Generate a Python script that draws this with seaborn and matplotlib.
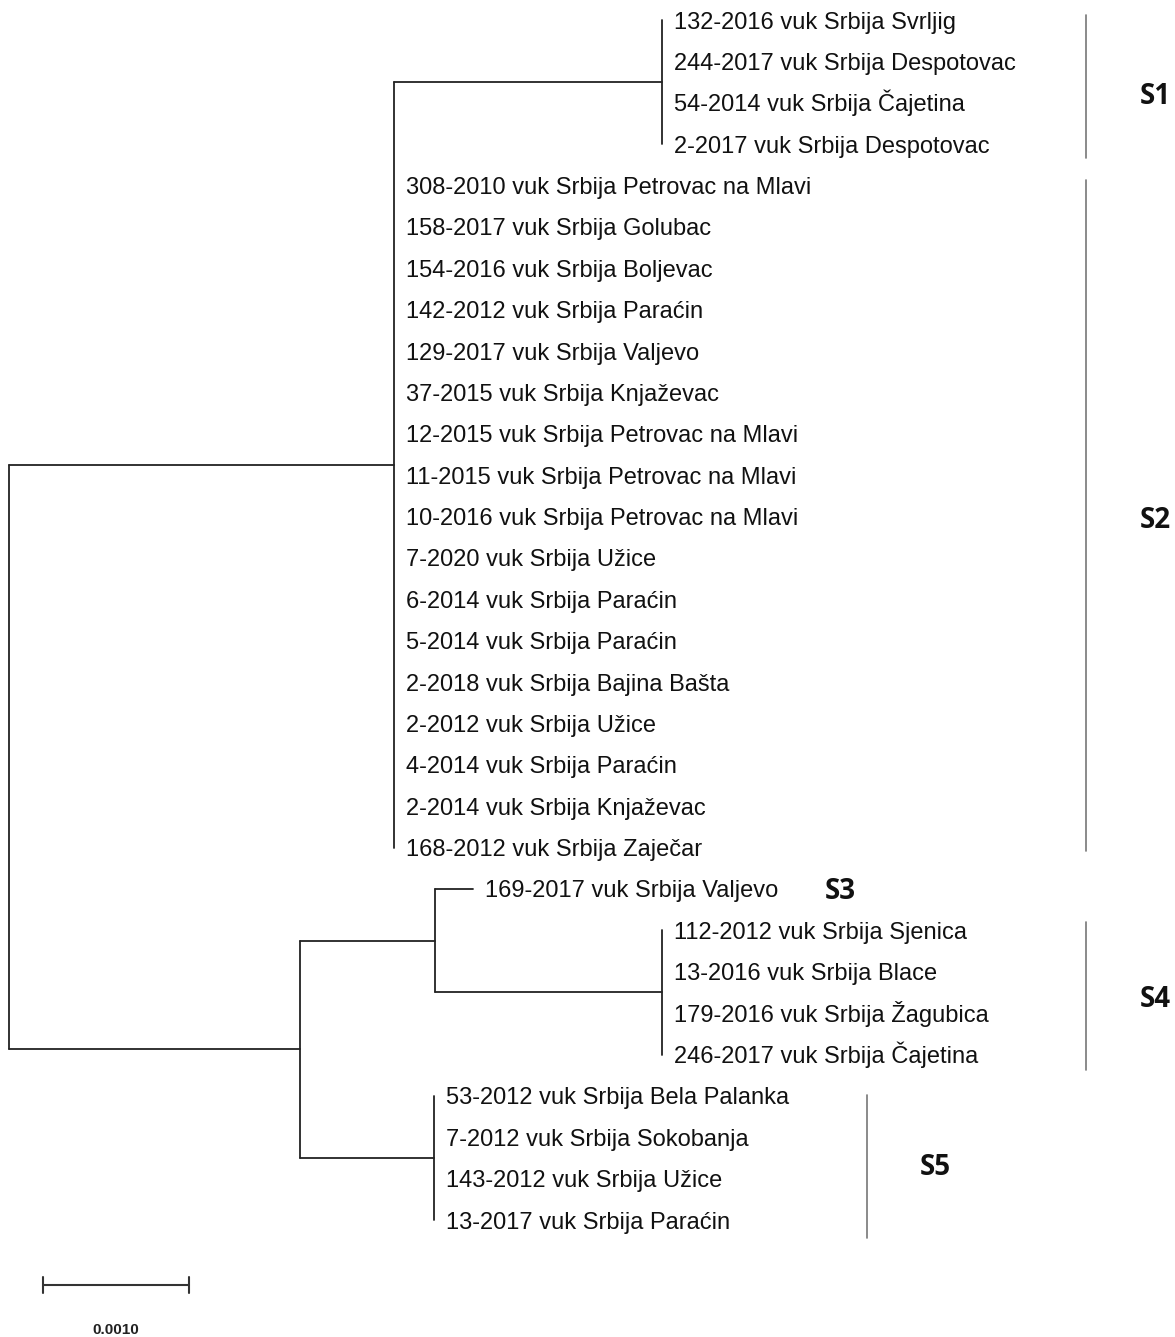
import matplotlib
matplotlib.use("Agg")
import matplotlib.pyplot as plt
import seaborn as sns
import pandas as pd

# ---------------- data ----------------
s1_leaves = ["132-2016 vuk Srbija Svrljig", "244-2017 vuk Srbija Despotovac",
             "54-2014 vuk Srbija Čajetina", "2-2017 vuk Srbija Despotovac"]
s2_leaves = ["308-2010 vuk Srbija Petrovac na Mlavi", "158-2017 vuk Srbija Golubac",
             "154-2016 vuk Srbija Boljevac", "142-2012 vuk Srbija Paraćin",
             "129-2017 vuk Srbija Valjevo", "37-2015 vuk Srbija Knjaževac",
             "12-2015 vuk Srbija Petrovac na Mlavi", "11-2015 vuk Srbija Petrovac na Mlavi",
             "10-2016 vuk Srbija Petrovac na Mlavi", "7-2020 vuk Srbija Užice",
             "6-2014 vuk Srbija Paraćin", "5-2014 vuk Srbija Paraćin",
             "2-2018 vuk Srbija Bajina Bašta", "2-2012 vuk Srbija Užice",
             "4-2014 vuk Srbija Paraćin", "2-2014 vuk Srbija Knjaževac",
             "168-2012 vuk Srbija Zaječar"]
s3_leaves = ["169-2017 vuk Srbija Valjevo"]
s4_leaves = ["112-2012 vuk Srbija Sjenica", "13-2016 vuk Srbija Blace",
             "179-2016 vuk Srbija Žagubica", "246-2017 vuk Srbija Čajetina"]
s5_leaves = ["53-2012 vuk Srbija Bela Palanka", "7-2012 vuk Srbija Sokobanja",
             "143-2012 vuk Srbija Užice", "13-2017 vuk Srbija Paraćin"]
clade_names = ["S1", "S2", "S3", "S4", "S5"]

# branch lengths (substitutions/site)
bl_upper = 0.00264   # root -> S1+S2 node
bl_s1 = 0.00183      # S1+S2 node -> S1 node
bl_lower = 0.00199   # root -> S3+S4+S5 node
bl_s34 = 0.00093     # lower node -> S3+S4 node
bl_s3 = 0.00026      # S3+S4 node -> S3 leaf
bl_s4 = 0.00155      # S3+S4 node -> S4 node
bl_s5 = 0.00092      # lower node -> S5 node
scale_len = 0.0010
scale_label = "0.0010"

# tree: node = (branch_length, [children]); a child str is a leaf with zero branch
tree = (0.0, [
    (bl_upper, [(bl_s1, s1_leaves)] + s2_leaves),
    (bl_lower, [
        (bl_s34, [(bl_s3, s3_leaves), (bl_s4, s4_leaves)]),
        (bl_s5, s5_leaves),
    ]),
])

# ---------------- layout helpers ----------------
W, H, DPI = 1175, 1337, 100
PX_PER_UNIT = 146 / scale_len
X0_PX = 9
Y0_PX, DY_PX = 20, 41.38

def px2x(px):
    return (px - X0_PX) / PX_PER_UNIT

def py2y(py):
    return (py - Y0_PX) / DY_PX

segments = []
leaf_pos = []
counter = [0]

def layout(node, x_parent):
    bl, kids = node
    x = x_parent + bl
    ys = []
    for k in kids:
        if isinstance(k, str):
            y = counter[0]
            counter[0] += 1
            leaf_pos.append((k, x, y))
            ys.append(y)
        else:
            ys.append(layout(k, x))
    ymid = (min(ys) + max(ys)) / 2
    if max(ys) > min(ys):
        segments.append(((x, min(ys)), (x, max(ys))))
    if bl > 0:
        segments.append(((x_parent, ymid), (x, ymid)))
    return ymid

layout(tree, 0.0)

rows = []
for i, ((xa, ya), (xb, yb)) in enumerate(segments):
    rows.append({"seg": i, "x": xa, "y": ya})
    rows.append({"seg": i, "x": xb, "y": yb})
seg_df = pd.DataFrame(rows)

# ---------------- drawing ----------------
sns.set_theme(style="white")
plt.rcParams["font.family"] = ["Liberation Sans", "DejaVu Sans"]

fig = plt.figure(figsize=(W / DPI, H / DPI), dpi=DPI)
ax = fig.add_axes([0, 0, 1, 1])
ax.set_xlim(px2x(0), px2x(W))
ax.set_ylim(py2y(H), py2y(0))
ax.axis("off")

tree_color = "#222222"
sns.lineplot(data=seg_df, x="x", y="y", units="seg", estimator=None, sort=False,
             color=tree_color, linewidth=1.3, legend=False, ax=ax)

# leaf labels (baseline placed so digits are centred on the branch)
baseline_shift = 8.5 / DY_PX
for name, x, y in leaf_pos:
    ax.text(x + px2x(X0_PX + 12), y + baseline_shift, name, fontsize=17,
            color="#111111", va="baseline", ha="left")

# clade bars and labels (pixel layout)
bar_color = "#777777"
clade_bars = [(1086, 15, 158), (1086, 180, 851), None, (1086, 922, 1070), (867, 1095, 1238)]
clade_lbl = [(1155, 96), (1155, 520), (840, 891), (1155, 999), (935, 1167)]
for name, bar, (lx, ly) in zip(clade_names, clade_bars, clade_lbl):
    if bar is not None:
        bx, y0, y1 = bar
        ax.plot([px2x(bx), px2x(bx)], [py2y(y0), py2y(y1)], color=bar_color, lw=1.2)
    ax.text(px2x(lx), py2y(ly), name, fontsize=20, fontweight="bold",
            family=["Open Sans", "DejaVu Sans"], ha="center", va="center",
            color="#111111")

# scale bar
sb_x0 = px2x(43)
sb_y = py2y(1285)
ax.plot([sb_x0, sb_x0 + scale_len], [sb_y, sb_y], color="#333333", lw=1.5)
for xe in (sb_x0, sb_x0 + scale_len):
    ax.plot([xe, xe], [py2y(1277), py2y(1293)], color="#333333", lw=1.5)
ax.text(sb_x0 + scale_len / 2, py2y(1330), scale_label, fontsize=11,
        fontweight="bold", ha="center", va="center", color="#222222",
        family=["Liberation Sans", "DejaVu Sans"])

fig.savefig("out.png", dpi=DPI, facecolor="white")
